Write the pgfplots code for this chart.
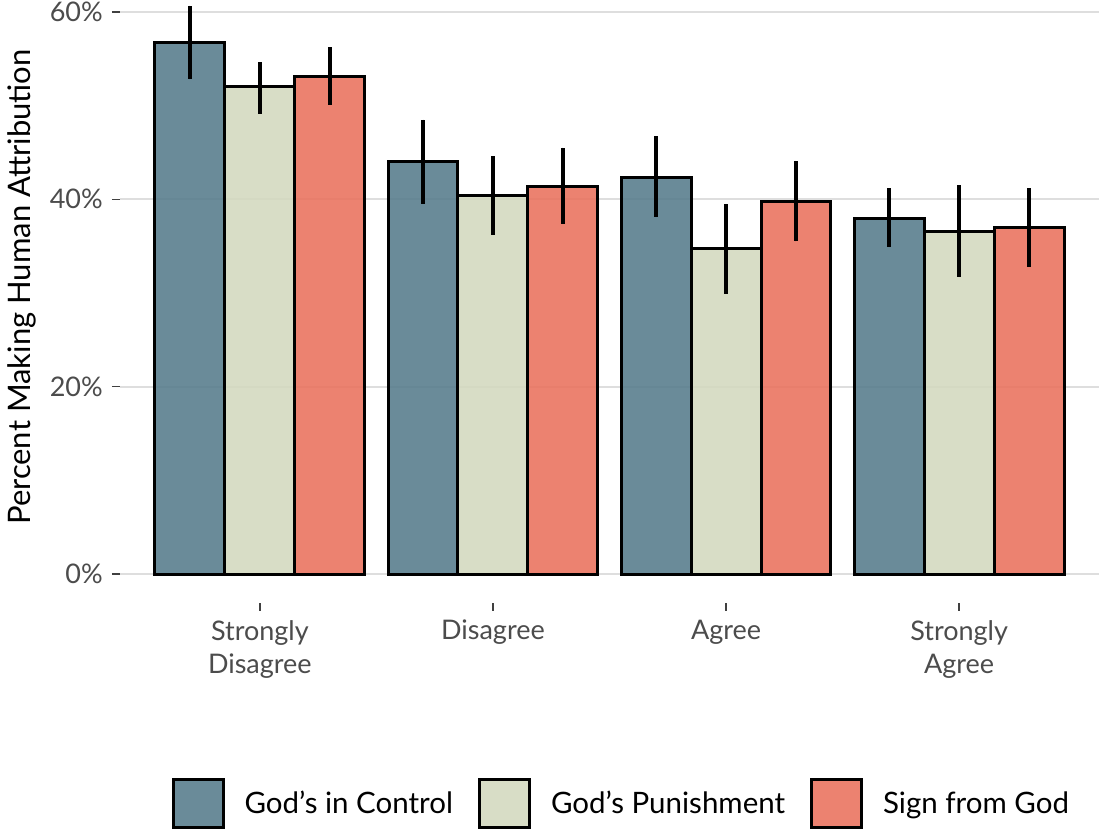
\documentclass[border=0pt]{standalone}
\usepackage{pgfplots}
\usepackage{pgfplotstable}
\pgfplotsset{compat=1.18}
\usepackage{fontspec}
\setmainfont{Lato}
\definecolor{cblue}{HTML}{5A7E8E}
\definecolor{cgreen}{HTML}{D4D9C0}
\definecolor{cred}{HTML}{EA7460}
\pgfplotstableread{
x y ep em
0.7 56.7 3.95 3.9
1.7 44.0 4.5 4.5
2.7 42.3 4.4 4.2
3.7 38.0 3.2 3.1
}\dataA
\pgfplotstableread{
x y ep em
1 52.0 2.6 2.9
2 40.4 4.2 4.2
3 34.8 4.7 4.9
4 36.6 4.9 4.9
}\dataB
\pgfplotstableread{
x y ep em
1.3 53.1 3.1 3.0
2.3 41.4 4.1 4.0
3.3 39.8 4.3 4.3
4.3 37.0 4.2 4.2
}\dataC
\begin{document}
\begin{tikzpicture}[x=1pt,y=1pt]
\path[use as bounding box] (0,0) rectangle (1100,832);
\begin{axis}[
  at={(120pt,229pt)}, anchor=south west,
  scale only axis, width=979pt, height=603pt,
  xmin=0.4, xmax=4.6, ymin=-3.07, ymax=61.26,
  clip=false,
  axis x line*=bottom, axis y line*=left,
  axis line style={draw=none},
  tick align=outside,
  major tick length=8pt,
  tick style={color=black!75, line width=1.5pt},
  ytick={0,20,40,60},
  xtick={1,2,3,4},
  xticklabels={{Strongly\\Disagree},Disagree,Agree,{Strongly\\Agree}},
  yticklabel={\pgfmathprintnumber{\tick}\%},
  /pgf/number format/assume math mode=true,
  ymajorgrids,
  grid style={color=black!13, line width=2pt},
  ticklabel style={font=\fontsize{27}{33}\selectfont, text=black!70},
  xticklabel style={align=center, anchor=north, inner sep=0pt, yshift=-9pt},
  yticklabel style={anchor=east, inner sep=0pt, xshift=-9pt},
  ylabel={Percent Making Human Attribution},
  ylabel style={font=\fontsize{31}{36}\selectfont, at={(axis description cs:-0.0919,0.524)}, anchor=base, inner sep=0pt},
  legend style={at={(0.511,-0.332)}, anchor=center, draw=none, fill=none,
    font=\fontsize{29.5}{36}\selectfont, nodes={inner sep=0pt},
    /tikz/every odd column/.append style={column sep=20pt},
    /tikz/every even column/.append style={column sep=25pt}},
  legend columns=3,
]
\addplot[ybar, bar width=0.3, bar shift=0, fill=cblue, draw=black, line width=3pt, fill opacity=0.9,
  legend image code/.code={\draw[fill=cblue,draw=black,line width=3pt,fill opacity=0.9] (0pt,-24pt) rectangle (50pt,24pt);},
  error bars/.cd, y dir=both, y explicit, error mark=none, error bar style={line width=3.5pt, black}]
  table[x=x, y=y, y error plus=ep, y error minus=em] {\dataA};
\addlegendentry{God's in Control}
\addplot[ybar, bar width=0.3, bar shift=0, fill=cgreen, draw=black, line width=3pt, fill opacity=0.9,
  legend image code/.code={\draw[fill=cgreen,draw=black,line width=3pt,fill opacity=0.9] (0pt,-24pt) rectangle (50pt,24pt);},
  error bars/.cd, y dir=both, y explicit, error mark=none, error bar style={line width=3.5pt, black}]
  table[x=x, y=y, y error plus=ep, y error minus=em] {\dataB};
\addlegendentry{God's Punishment}
\addplot[ybar, bar width=0.3, bar shift=0, fill=cred, draw=black, line width=3pt, fill opacity=0.9,
  legend image code/.code={\draw[fill=cred,draw=black,line width=3pt,fill opacity=0.9] (0pt,-24pt) rectangle (50pt,24pt);},
  error bars/.cd, y dir=both, y explicit, error mark=none, error bar style={line width=3.5pt, black}]
  table[x=x, y=y, y error plus=ep, y error minus=em] {\dataC};
\addlegendentry{Sign from God}
\end{axis}
\end{tikzpicture}
\end{document}
